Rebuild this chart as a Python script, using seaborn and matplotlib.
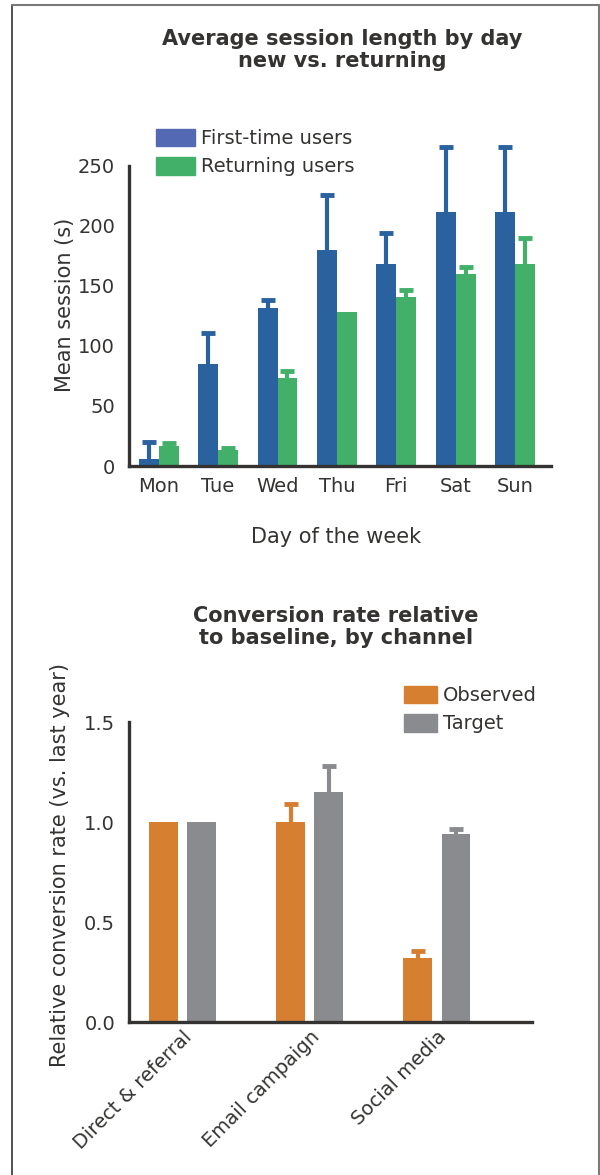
import numpy as np
import pandas as pd
import matplotlib
matplotlib.use("Agg")
import matplotlib.pyplot as plt
from matplotlib.patches import Patch
from matplotlib.lines import Line2D
import seaborn as sns

# --- data: top chart ---
days = ["Mon", "Tue", "Wed", "Thu", "Fri", "Sat", "Sun"]
top_series = ["First-time users", "Returning users"]
first_vals = [6, 85, 132, 180, 168, 212, 212]
first_err = [14, 26, 6, 46, 26, 54, 54]
return_vals = [17, 13, 73, 128, 141, 160, 168]
return_err = [2, 2, 6, 0, 6, 6, 22]
top_ticks = [0, 50, 100, 150, 200, 250]

# --- data: bottom chart ---
channels = ["Direct & referral", "Email campaign", "Social media"]
bottom_series = ["Observed", "Target"]
observed_vals = [1.0, 1.0, 0.32]
observed_err = [0.0, 0.09, 0.035]
target_vals = [1.0, 1.15, 0.94]
target_err = [0.0, 0.13, 0.025]
bottom_ticks = [0.0, 0.5, 1.0, 1.5]

blue, blue_leg, green = "#2a62a0", "#5469b4", "#42b068"
orange, grey = "#d77f30", "#8a8b8f"
ink = "#343331"

sns.set_style("white")
plt.rcParams["font.family"] = ["DejaVu Sans"]
plt.rcParams["text.color"] = ink
plt.rcParams["axes.labelcolor"] = ink
plt.rcParams["xtick.color"] = ink
plt.rcParams["ytick.color"] = ink

fig = plt.figure(figsize=(6, 11.75), dpi=100)

# frame like the card border
fig.add_artist(Line2D([12 / 600, 12 / 600], [0, 1 - 5 / 1175], color=ink, lw=1.2, transform=fig.transFigure))
fig.add_artist(Line2D([12 / 600, 599 / 600], [1 - 5 / 1175] * 2, color="#7a7a7a", lw=1.5, transform=fig.transFigure))
fig.add_artist(Line2D([599 / 600] * 2, [0, 1 - 5 / 1175], color="#7a7a7a", lw=1.5, transform=fig.transFigure))


def add_errors(ax, errs, colors):
    # one-sided (upper) error bars on top of each bar
    for cont, err, col in zip(ax.containers, errs, colors):
        xs = np.array([b.get_x() + b.get_width() / 2 for b in cont])
        ys = np.array([b.get_height() for b in cont])
        err = np.array(err)
        m = err > 0
        _, caps, _ = ax.errorbar(xs[m], ys[m], yerr=[np.zeros(m.sum()), err[m]], fmt="none",
                                 ecolor=col, elinewidth=3, capsize=5, capthick=3.5)
        caps[0].set_visible(False)


def style_axis(ax, lo, hi):
    sns.despine(ax=ax)
    ax.spines["left"].set_bounds(lo, hi)
    for s in ("left", "bottom"):
        ax.spines[s].set_linewidth(2.4)
        ax.spines[s].set_color(ink)
    ax.tick_params(axis="y", length=8, width=2.4, labelsize=14, pad=2)


# ---------------- top chart ----------------
ax1 = fig.add_axes([0.215, 0.6034, 0.703, 0.2809])
top_df = pd.DataFrame({
    "day": days * 2,
    "group": [top_series[0]] * 7 + [top_series[1]] * 7,
    "value": first_vals + return_vals,
})
sns.barplot(data=top_df, x="day", y="value", hue="group", palette=[blue, green],
            width=0.67, gap=0, errorbar=None, saturation=1, legend=False,
            linewidth=0, edgecolor="none", ax=ax1)
add_errors(ax1, [first_err, return_err], [blue, green])
ax1.set_xlim(-0.5, 6.6)
ax1.set_ylim(0, 275)
ax1.set_yticks(top_ticks)
style_axis(ax1, 0, 250)
ax1.tick_params(axis="x", length=0, labelsize=14, pad=8)
ax1.set_ylabel("Mean session (s)", fontsize=15)
ax1.yaxis.set_label_coords(-0.128, 0.488)
ax1.set_xlabel("Day of the week", fontsize=15)
ax1.xaxis.set_label_coords(0.49, -0.185)

fig.text(342 / 600, 1 - 29 / 1175, "Average session length by day\nnew vs. returning",
         ha="center", va="top", fontsize=15, fontweight="bold", linespacing=1.15)
fig.legend(handles=[Patch(color=blue_leg), Patch(color=green)], labels=top_series,
           loc="upper left", bbox_to_anchor=(156 / 600, 1 - 129 / 1175), frameon=False,
           fontsize=14, handlelength=2.0, handleheight=1.0, handletextpad=0.3,
           labelspacing=0.45, borderpad=0, borderaxespad=0)

# ---------------- bottom chart ----------------
ax2 = fig.add_axes([0.215, 0.1302, 0.672, 0.2723])
bottom_df = pd.DataFrame({
    "channel": channels * 2,
    "group": [bottom_series[0]] * 3 + [bottom_series[1]] * 3,
    "value": observed_vals + target_vals,
})
sns.barplot(data=bottom_df, x="channel", y="value", hue="group", palette=[orange, grey],
            width=0.6, gap=0.25, errorbar=None, saturation=1, legend=False,
            linewidth=0, edgecolor="none", ax=ax2)
add_errors(ax2, [observed_err, target_err], [orange, grey])
ax2.set_xlim(-0.42, 2.75)
ax2.set_ylim(0, 1.6)
ax2.set_yticks(bottom_ticks)
ax2.set_yticklabels([f"{t:.1f}" for t in bottom_ticks])
style_axis(ax2, 0, 1.5)
ax2.tick_params(axis="x", length=0, labelsize=14, pad=4)
plt.setp(ax2.get_xticklabels(), rotation=45, ha="right", rotation_mode="anchor")
ax2.set_xlabel("")
ax2.set_ylabel("Relative conversion rate (vs. last year)", fontsize=15)
ax2.yaxis.set_label_coords(-0.146, 0.49)

fig.text(336 / 600, 1 - 606 / 1175, "Conversion rate relative\nto baseline, by channel",
         ha="center", va="top", fontsize=15, fontweight="bold", linespacing=1.15)
fig.legend(handles=[Patch(color=orange), Patch(color=grey)], labels=bottom_series,
           loc="upper left", bbox_to_anchor=(404 / 600, 1 - 686 / 1175), frameon=False,
           fontsize=14, handlelength=1.7, handleheight=1.0, handletextpad=0.3,
           labelspacing=0.45, borderpad=0, borderaxespad=0)

fig.savefig("out.png", dpi=100, facecolor="white")
